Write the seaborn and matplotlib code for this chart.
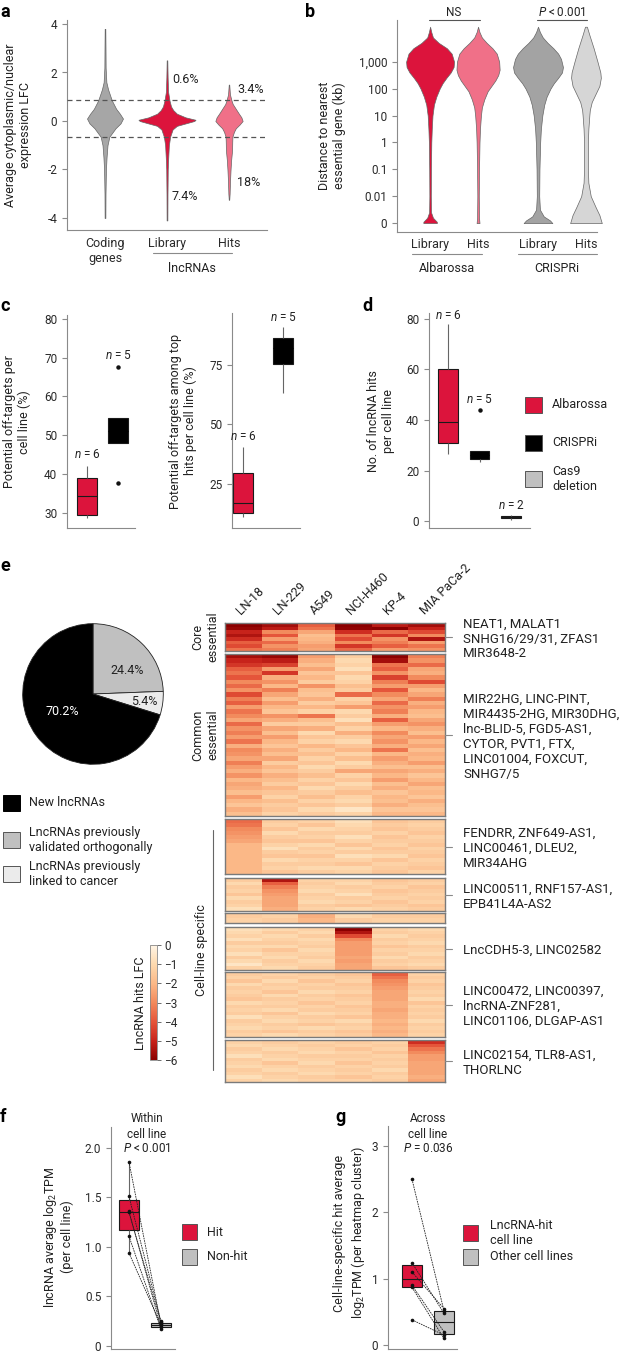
import numpy as np
import pandas as pd
import matplotlib
matplotlib.use("Agg")
import matplotlib.pyplot as plt
import seaborn as sns
from matplotlib.lines import Line2D
from matplotlib.patches import Rectangle
from matplotlib.colors import LinearSegmentedColormap

# ---------------- DATA ----------------
# Panel a: violin density profiles (y = LFC, w = half-width)
a_categories = ["Coding\ngenes", "Library", "Hits"]
a_coding_y = [-4.0, -3.0, -2.0, -1.5, -1.0, -0.65, -0.3, -0.1, 0.1, 0.3, 0.5, 0.85, 1.3, 1.6, 2.2, 3.0, 3.8]
a_coding_w = [0.006, 0.008, 0.015, 0.025, 0.04, 0.07, 0.17, 0.25, 0.29, 0.24, 0.18, 0.11, 0.05, 0.022, 0.01, 0.008, 0.005]
a_lib_y = [-4.1, -3.0, -2.0, -1.5, -1.0, -0.65, -0.35, -0.2, -0.1, 0.0, 0.05, 0.15, 0.3, 0.45, 0.6, 0.85, 1.2, 1.8, 2.5]
a_lib_w = [0.006, 0.008, 0.012, 0.02, 0.03, 0.05, 0.09, 0.16, 0.3, 0.44, 0.46, 0.3, 0.16, 0.1, 0.065, 0.04, 0.018, 0.01, 0.005]
a_hits_y = [-3.25, -3.0, -2.5, -2.0, -1.6, -1.2, -0.9, -0.65, -0.45, -0.3, -0.15, 0.0, 0.15, 0.3, 0.5, 0.7, 0.85, 1.1, 1.5]
a_hits_w = [0.004, 0.01, 0.016, 0.025, 0.035, 0.05, 0.052, 0.055, 0.08, 0.11, 0.17, 0.22, 0.2, 0.16, 0.11, 0.06, 0.04, 0.015, 0.004]
a_thresholds = [0.85, -0.65]
a_pct_labels = ["0.6%", "7.4%", "3.4%", "18%"]
a_pct_y = [1.7, -3.1, 1.28, -2.55]

# Panel b: violin density profiles (y = log10 kb, -3 stands for 0)
b_ticks = [-3, -2, -1, 0, 1, 2, 3]
b_ticklabels = ["0", "0.01", "0.1", "1", "10", "100", "1,000"]
b_alb_lib_y = [-3.0, -2.95, -2.8, -2.6, -2.0, -1.0, 0.0, 0.5, 1.0, 1.4, 1.7, 2.0, 2.2, 2.4, 2.6, 2.8, 3.0, 3.3, 3.5, 3.7, 3.9, 4.1, 4.3]
b_alb_lib_w = [0.14, 0.14, 0.06, 0.02, 0.015, 0.018, 0.025, 0.035, 0.05, 0.08, 0.13, 0.2, 0.26, 0.34, 0.43, 0.49, 0.5, 0.45, 0.35, 0.18, 0.06, 0.025, 0.0]
b_alb_hit_y = [-3.0, -2.8, -2.0, -1.0, 0.0, 0.5, 1.0, 1.3, 1.6, 1.9, 2.1, 2.3, 2.5, 2.7, 3.0, 3.3, 3.5, 3.7, 3.9, 4.1, 4.3]
b_alb_hit_w = [0.03, 0.02, 0.015, 0.02, 0.03, 0.04, 0.06, 0.08, 0.13, 0.2, 0.28, 0.36, 0.42, 0.45, 0.44, 0.39, 0.3, 0.18, 0.08, 0.03, 0.0]
b_cr_lib_y = [-3.0, -2.9, -2.75, -2.5, -2.0, -1.0, 0.0, 0.5, 1.0, 1.4, 1.7, 2.0, 2.2, 2.4, 2.6, 2.8, 3.1, 3.3, 3.5, 3.7, 3.9, 4.1, 4.3]
b_cr_lib_w = [0.3, 0.25, 0.12, 0.04, 0.025, 0.03, 0.045, 0.06, 0.09, 0.13, 0.18, 0.26, 0.33, 0.42, 0.5, 0.52, 0.48, 0.42, 0.32, 0.2, 0.1, 0.04, 0.0]
b_cr_hit_y = [-3.0, -2.7, -2.4, -2.0, -1.5, -1.0, 0.0, 0.5, 1.0, 1.2, 1.5, 1.8, 2.1, 2.4, 2.6, 3.0, 3.5, 4.0, 4.3]
b_cr_hit_w = [0.33, 0.28, 0.2, 0.1, 0.05, 0.04, 0.04, 0.05, 0.07, 0.08, 0.12, 0.2, 0.28, 0.31, 0.3, 0.24, 0.16, 0.07, 0.02]

# Panel c
c1_albarossa = [28.7, 29.2, 30.4, 38.4, 39.1, 42.2]
c1_crispri = [37.8, 48.0, 51.0, 54.5, 67.7]
c2_albarossa = [11.0, 12.0, 16.0, 18.0, 33.3, 40.5]
c2_crispri = [63.0, 75.5, 82.0, 86.5, 91.0]

# Panel d
d_albarossa = [26.5, 29.0, 36.2, 42.2, 66.3, 78.0]
d_crispri = [23.5, 24.5, 26.0, 27.7, 44.0]
d_cas9 = [0.6, 2.6]
d_labels = ["Albarossa", "CRISPRi", "Cas9\ndeletion"]

# Panel e pie
pie_values = [24.4, 5.4, 70.2]
pie_labels = ["LncRNAs previously\nvalidated orthogonally", "LncRNAs previously\nlinked to cancer", "New lncRNAs"]

# Panel e heatmap (LFC per lncRNA hit, columns = cell lines)
cell_lines = ["LN-18", "LN-229", "A549", "NCI-H460", "KP-4", "MIA PaCa-2"]
hm_core = [
    [-6.0, -5.6, -3.8, -6.0, -5.2, -5.6],
    [-5.8, -5.2, -3.4, -5.9, -6.0, -5.0],
    [-5.0, -3.0, -2.4, -4.8, -3.6, -4.2],
    [-5.4, -4.0, -1.8, -3.4, -4.6, -3.0],
    [-4.8, -2.6, -2.0, -4.2, -2.8, -5.4],
    [-3.8, -3.6, -2.2, -3.0, -3.2, -2.6],
    [-4.2, -2.8, -2.6, -4.6, -3.8, -3.4],
    [-3.4, -3.2, -2.4, -3.6, -2.6, -2.8],
]
hm_common = [
    [-5.6, -5.8, -2.6, -1.4, -6.0, -3.2],
    [-5.0, -5.2, -2.2, -1.0, -5.6, -2.8],
    [-4.6, -4.4, -1.8, -1.2, -3.4, -3.6],
    [-3.8, -2.6, -2.4, -0.8, -3.8, -2.4],
    [-3.4, -4.6, -1.6, -1.6, -2.8, -2.2],
    [-4.0, -2.2, -2.0, -1.0, -4.4, -3.0],
    [-3.0, -2.8, -1.4, -1.2, -3.2, -4.2],
    [-3.6, -2.0, -2.8, -1.8, -2.6, -2.6],
    [-2.8, -3.2, -1.8, -1.4, -4.0, -2.0],
    [-4.2, -2.4, -1.6, -3.6, -3.0, -2.4],
    [-3.2, -1.8, -2.2, -1.2, -2.4, -3.2],
    [-3.8, -2.6, -1.4, -1.6, -3.6, -2.2],
    [-2.6, -2.0, -2.0, -2.6, -2.8, -2.6],
    [-3.4, -1.6, -1.2, -1.0, -3.2, -2.0],
    [-3.0, -2.8, -3.4, -1.4, -2.2, -1.8],
    [-2.4, -2.2, -1.8, -0.8, -3.8, -2.4],
    [-3.6, -1.4, -1.4, -1.8, -2.6, -2.8],
    [-2.8, -2.4, -2.2, -1.2, -2.0, -2.2],
    [-3.2, -1.8, -1.0, -2.2, -3.0, -1.8],
    [-2.6, -2.6, -1.6, -1.4, -2.4, -2.6],
    [-3.4, -2.0, -1.2, -1.0, -2.8, -2.0],
    [-2.2, -1.6, -2.0, -1.6, -2.2, -2.4],
    [-3.0, -2.2, -1.4, -2.0, -3.4, -1.8],
    [-2.8, -1.8, -1.8, -1.2, -2.0, -2.2],
    [-2.4, -2.4, -1.2, -1.8, -2.6, -2.0],
    [-3.2, -1.4, -1.6, -1.0, -2.2, -2.6],
    [-2.6, -2.0, -1.0, -1.4, -1.8, -1.8],
    [-2.2, -1.6, -1.4, -2.4, -2.4, -2.2],
    [-2.8, -2.2, -1.8, -1.2, -2.0, -1.6],
    [-2.0, -1.8, -1.2, -1.6, -2.6, -2.0],
    [-2.4, -1.4, -1.6, -1.0, -1.8, -2.4],
    [-2.2, -2.0, -1.0, -1.4, -2.2, -1.8],
    [-1.8, -1.6, -1.4, -1.8, -1.6, -2.0],
    [-2.6, -1.2, -1.8, -1.2, -2.0, -1.6],
    [-2.0, -1.8, -1.2, -1.0, -1.8, -2.2],
    [-1.6, -1.4, -1.6, -1.4, -2.2, -1.8],
    [-2.2, -1.6, -1.0, -0.6, -1.6, -1.6],
    [-1.8, -1.2, -1.4, -1.2, -2.0, -2.0],
]
hm_ln18 = [
    [-3.6, -1.4, -1.2, -0.8, -1.6, -1.4],
    [-3.4, -1.2, -1.6, -1.0, -1.4, -1.2],
    [-3.0, -1.6, -1.0, -1.2, -1.6, -1.4],
    [-2.8, -1.0, -1.4, -1.4, -1.2, -1.6],
    [-2.6, -1.4, -1.2, -0.8, -1.6, -1.2],
    [-2.4, -1.6, -1.6, -1.2, -1.4, -1.4],
    [-2.0, -1.2, -1.0, -1.6, -1.2, -1.6],
    [-2.0, -0.8, -1.4, -1.0, -1.6, -1.2],
    [-2.0, -1.4, -1.2, -1.4, -1.4, -1.4],
    [-2.0, -1.6, -1.6, -0.8, -1.0, -1.6],
    [-2.0, -1.0, -1.2, -1.2, -1.6, -1.2],
    [-2.0, -1.4, -1.4, -1.6, -1.2, -1.4],
    [-2.0, -1.2, -1.0, -1.0, -1.4, -1.6],
    [-2.0, -1.6, -1.4, -1.2, -1.6, -1.2],
]
hm_ln229 = [
    [-1.4, -5.4, -1.2, -1.2, -1.6, -1.4],
    [-1.0, -3.8, -1.4, -1.0, -1.4, -1.2],
    [-1.4, -3.2, -1.2, -1.4, -1.2, -1.6],
    [-1.2, -2.8, -1.0, -1.2, -1.6, -1.4],
    [-1.6, -2.6, -1.4, -0.8, -1.4, -1.2],
    [-1.0, -2.4, -1.2, -1.4, -1.2, -1.4],
    [-1.4, -2.4, -1.0, -1.2, -1.6, -1.2],
    [-1.2, -2.4, -1.4, -1.6, -1.4, -1.6],
    [-0.8, -2.2, -1.2, -1.0, -1.2, -1.4],
]
hm_a549 = [
    [-1.4, -1.2, -2.2, -1.0, -1.4, -1.4],
    [-1.2, -1.4, -2.0, -1.4, -1.2, -1.2],
]
hm_h460 = [
    [-0.8, -1.0, -1.2, -6.0, -1.2, -1.0],
    [-1.0, -1.4, -1.0, -5.4, -1.4, -1.2],
    [-1.2, -1.0, -1.4, -4.2, -1.0, -1.4],
    [-0.8, -1.2, -1.0, -3.0, -1.4, -1.2],
    [-1.4, -1.4, -1.2, -2.6, -1.2, -1.0],
    [-1.0, -1.0, -1.4, -2.6, -1.6, -1.4],
    [-1.2, -1.6, -1.0, -2.6, -1.2, -1.2],
    [-0.8, -1.2, -1.2, -2.6, -1.4, -1.0],
    [-1.4, -1.0, -1.4, -2.4, -1.0, -1.4],
    [-1.0, -1.4, -1.0, -2.6, -1.4, -1.2],
    [-0.6, -1.2, -1.2, -2.4, -1.2, -1.0],
    [-1.2, -1.0, -1.4, -2.4, -1.6, -1.4],
]
hm_kp4 = [
    [-1.4, -1.2, -1.4, -1.6, -3.8, -1.2],
    [-1.2, -1.4, -1.2, -1.4, -3.4, -1.4],
    [-1.6, -1.0, -1.6, -1.2, -3.0, -1.2],
    [-1.0, -1.4, -1.2, -1.6, -2.8, -1.6],
    [-1.4, -1.2, -1.4, -1.4, -2.6, -1.4],
    [-1.2, -1.6, -1.0, -1.2, -2.4, -1.2],
    [-1.4, -1.0, -1.4, -1.6, -2.4, -1.4],
    [-1.6, -1.4, -1.2, -1.4, -2.4, -1.0],
    [-1.0, -1.2, -1.6, -1.2, -2.2, -1.6],
    [-1.4, -1.4, -1.2, -1.6, -2.2, -1.2],
    [-1.2, -1.0, -1.4, -1.4, -2.4, -1.4],
    [-1.4, -1.6, -1.0, -1.2, -2.2, -1.2],
    [-0.8, -1.2, -1.4, -1.6, -2.2, -1.4],
    [-1.4, -1.0, -1.2, -1.0, -2.0, -1.0],
    [-1.2, -1.4, -1.6, -1.4, -2.2, -1.4],
    [-1.0, -1.2, -1.0, -1.2, -2.0, -1.2],
    [-1.4, -1.6, -1.4, -1.6, -2.2, -1.4],
    [-1.2, -1.0, -1.2, -1.4, -2.0, -1.2],
]
hm_mia = [
    [-1.2, -1.4, -1.2, -1.4, -1.2, -4.8],
    [-1.0, -1.2, -1.4, -1.2, -1.4, -4.0],
    [-1.4, -1.0, -1.2, -1.6, -1.2, -3.4],
    [-1.2, -1.4, -1.0, -1.2, -1.6, -3.0],
    [-0.8, -1.2, -1.4, -1.4, -1.2, -2.6],
    [-1.4, -1.0, -1.2, -1.2, -1.4, -2.6],
    [-1.2, -1.6, -1.0, -1.6, -1.2, -2.4],
    [-1.0, -1.2, -1.4, -1.2, -1.4, -2.4],
    [-1.4, -1.0, -1.2, -1.4, -1.0, -2.4],
    [-1.2, -1.4, -1.0, -1.2, -1.4, -2.4],
    [-0.8, -1.2, -1.4, -1.6, -1.2, -2.2],
    [-1.2, -1.0, -1.2, -1.2, -1.4, -2.4],
]
hm_gene_labels = [
    "NEAT1, MALAT1\nSNHG16/29/31, ZFAS1\nMIR3648-2",
    "MIR22HG, LINC-PINT,\nMIR4435-2HG, MIR30DHG,\nlnc-BLID-5, FGD5-AS1,\nCYTOR, PVT1, FTX,\nLINC01004, FOXCUT,\nSNHG7/5",
    "FENDRR, ZNF649-AS1,\nLINC00461, DLEU2,\nMIR34AHG",
    "LINC00511, RNF157-AS1,\nEPB41L4A-AS2",
    "",
    "LncCDH5-3, LINC02582",
    "LINC00472, LINC00397,\nlncRNA-ZNF281,\nLINC01106, DLGAP-AS1",
    "LINC02154, TLR8-AS1,\nTHORLNC",
]
cbar_ticks = [0, -1, -2, -3, -4, -5, -6]

# Panel f
f_hit = [1.86, 1.51, 1.36, 1.35, 1.11, 0.94]
f_nonhit = [0.22, 0.25, 0.19, 0.24, 0.17, 0.21]
# Panel g
g_hit = [2.5, 1.24, 1.1, 0.9, 0.87, 0.38]
g_other = [0.52, 0.48, 0.55, 0.2, 0.1, 0.15]

# ---------------- STYLE ----------------
CRIMSON = "#dc143c"
PINK = "#f07088"
GRAY = "#a6a6a6"
LGRAY = "#d6d6d6"
BOXGRAY = "#c0c0c0"

sns.set_theme(style="ticks", rc={
    "axes.edgecolor": "#8a8a8a", "axes.linewidth": 0.8,
    "xtick.color": "#8a8a8a", "ytick.color": "#8a8a8a",
    "xtick.labelcolor": "#2a2a2a", "ytick.labelcolor": "#2a2a2a",
    "xtick.major.width": 0.8, "ytick.major.width": 0.8,
    "xtick.major.size": 3.5, "ytick.major.size": 3.5,
    "xtick.labelsize": 8.5, "ytick.labelsize": 8.5,
})
plt.rcParams["font.family"] = ["Roboto", "DejaVu Sans"]
plt.rcParams["mathtext.fontset"] = "custom"
plt.rcParams["mathtext.rm"] = "Roboto"
plt.rcParams["mathtext.it"] = "Roboto:italic"
plt.rcParams["mathtext.bf"] = "Roboto:bold"
plt.rcParams["axes.unicode_minus"] = False
plt.rcParams["text.color"] = "#222222"

W, H = 634, 1352
fig = plt.figure(figsize=(W / 100, H / 100), dpi=100)


def rect(l, t, r, b):
    return [l / W, 1 - b / H, (r - l) / W, (b - t) / H]


def ftext(x, y, s, **kw):
    kw.setdefault("fontsize", 9)
    return fig.text(x / W, 1 - y / H, s, **kw)


def fline(xs, ys, **kw):
    kw.setdefault("color", "#8a8a8a")
    kw.setdefault("lw", 0.8)
    fig.add_artist(Line2D([x / W for x in xs], [1 - y / H for y in ys], transform=fig.transFigure, **kw))


def fpatch(x, y, w, h, color, edge="#555555"):
    fig.add_artist(Rectangle((x / W, 1 - (y + h) / H), w / W, h / H, transform=fig.transFigure,
                             facecolor=color, edgecolor=edge, lw=0.7))


def violin(ax, pos, ys, ws, color):
    ys = np.asarray(ys); ws = np.asarray(ws)
    ax.fill_betweenx(ys, pos - ws, pos + ws, facecolor=color, edgecolor="#666666", lw=0.5,
                     zorder=3, clip_on=False)


def boxes(ax, groups, values, palette, width, fliers=True):
    df = pd.DataFrame({"g": np.repeat(groups, [len(v) for v in values]), "v": np.concatenate(values)})
    sns.boxplot(data=df, x="g", y="v", hue="g", order=groups, hue_order=groups, palette=palette,
                width=width, saturation=1, linecolor="#1a1a1a", linewidth=0.8, showfliers=fliers,
                flierprops=dict(marker="o", markersize=2.2, markerfacecolor="#111", markeredgecolor="#111"),
                whiskerprops=dict(color="#666666"), capprops=dict(linewidth=0),
                legend=False, ax=ax)
    # hide median line inside black boxes
    for gi, col in enumerate(palette):
        if col == "black":
            for ln in ax.lines:
                xd = np.asarray(ln.get_xdata(), dtype=float)
                yd = np.asarray(ln.get_ydata(), dtype=float)
                if len(xd) == 2 and yd[0] == yd[1] and abs(xd.mean() - gi) < 0.05 and xd[1] != xd[0]:
                    ln.set_color("black")
    ax.set_xlabel(""); ax.set_ylabel("")
    ax.set_xticks([])
    sns.despine(ax=ax)


def letter(x, y, s):
    ftext(x, y, s, fontsize=13, fontweight="bold", va="top", ha="left", color="black")

# ---------------- PANEL a ----------------
ax = fig.add_axes(rect(67, 20, 267, 230))
violin(ax, 0, a_coding_y, a_coding_w, GRAY)
violin(ax, 1, a_lib_y, a_lib_w, CRIMSON)
violin(ax, 2, a_hits_y, a_hits_w, PINK)
for t in a_thresholds:
    ax.axhline(t, color="#555555", lw=0.9, ls=(0, (4, 3)), zorder=4)
ax.set_xlim(-0.613, 2.613)
ax.set_ylim(-4.495, 4.165)
ax.set_yticks([-4, -2, 0, 2, 4])
ax.set_xticks([0, 1, 2], a_categories)
ax.tick_params(axis="x", length=0, pad=5, labelsize=9)
for s, xx, yy in zip(a_pct_labels, [1.08, 1.08, 2.13, 2.13], a_pct_y):
    ax.text(xx, yy, s, fontsize=9, va="center", ha="left")
sns.despine(ax=ax)
fline([153, 232], [253, 253])
ftext(192, 268, "lncRNAs", ha="center", va="center")
ftext(18, 125, "Average cytoplasmic/nuclear\nexpression LFC", rotation=90, ha="center", va="center")
letter(0, 3, "a")

# ---------------- PANEL b ----------------
ax = fig.add_axes(rect(397, 20, 597, 232))
violin(ax, 0, b_alb_lib_y, b_alb_lib_w, CRIMSON)
violin(ax, 1, b_alb_hit_y, b_alb_hit_w, PINK)
violin(ax, 2.25, b_cr_lib_y, b_cr_lib_w, "#a3a3a3")
violin(ax, 3.25, b_cr_hit_y, b_cr_hit_w, LGRAY)
ax.set_xlim(-0.69, 3.48)
ax.set_ylim(-3.33, 4.55)
ax.set_yticks(b_ticks, b_ticklabels)
ax.set_xticks([0, 1, 2.25, 3.25], ["Library", "Hits", "Library", "Hits"])
ax.tick_params(axis="x", length=0, pad=4, labelsize=9)
sns.despine(ax=ax)
fline([412, 482], [254, 254])
fline([518, 597], [254, 254])
ftext(447, 268, "Albarossa", ha="center", va="center")
ftext(557, 268, "CRISPRi", ha="center", va="center")
fline([429, 480], [20, 20], color="#555555")
fline([537, 587], [20, 20], color="#555555")
ftext(454, 12, "NS", ha="center", va="center", fontsize=8.5)
ftext(562, 12, "$P$ < 0.001", ha="center", va="center", fontsize=8.5)
ftext(332, 136, "Distance to nearest\nessential gene (kb)", rotation=90, ha="center", va="center")
letter(305, 3, "b")

# ---------------- PANEL c ----------------
ax = fig.add_axes(rect(67, 315, 135, 528))
boxes(ax, ["Albarossa", "CRISPRi"], [c1_albarossa, c1_crispri], [CRIMSON, "black"], 0.645)
ax.set_xlim(-0.645, 1.55); ax.set_ylim(26.1, 81)
ax.set_yticks([30, 40, 50, 60, 70, 80])
ax.text(0, 45, "$n$ = 6", ha="center", va="center", fontsize=8.5)
ax.text(1, 70.5, "$n$ = 5", ha="center", va="center", fontsize=8.5)
ftext(17, 422, "Potential off-targets per\ncell line (%)", rotation=90, ha="center", va="center")

ax = fig.add_axes(rect(232, 313, 300, 528))
boxes(ax, ["Albarossa", "CRISPRi"], [c2_albarossa, c2_crispri], [CRIMSON, "black"], 0.5)
ax.set_xlim(-0.275, 1.425); ax.set_ylim(6.5, 96.8)
ax.set_yticks([25, 50, 75])
ax.text(0, 45, "$n$ = 6", ha="center", va="center", fontsize=8.5)
ax.text(1, 95, "$n$ = 5", ha="center", va="center", fontsize=8.5)
ftext(183, 421, "Potential off-targets among top\nhits per cell line (%)", rotation=90, ha="center", va="center")
letter(0, 297, "c")

# ---------------- PANEL d ----------------
ax = fig.add_axes(rect(429, 313, 530, 528))
boxes(ax, ["Albarossa", "CRISPRi", "Cas9"], [d_albarossa, d_crispri, d_cas9], [CRIMSON, "black", BOXGRAY], 0.63)
ax.set_xlim(-0.6, 2.6); ax.set_ylim(-2.7, 82.3)
ax.set_yticks([0, 20, 40, 60, 80])
ax.text(0, 81.5, "$n$ = 6", ha="center", va="center", fontsize=8.5)
ax.text(1, 48, "$n$ = 5", ha="center", va="center", fontsize=8.5)
ax.text(2, 6, "$n$ = 2", ha="center", va="center", fontsize=8.5)
ftext(381, 421, "No. of lncRNA hits\nper cell line", rotation=90, ha="center", va="center")
for lab, col, yc in zip(d_labels, [CRIMSON, "black", BOXGRAY], [405, 443, 479]):
    fpatch(525, yc - 8, 17, 16, col)
    ftext(552, yc, lab, ha="left", va="center")
letter(362, 297, "d")

# ---------------- PANEL e : pie ----------------
ax = fig.add_axes(rect(22, 623, 164, 765))
ax.pie(pie_values, colors=[BOXGRAY, "#ebebeb", "black"], startangle=90, counterclock=False,
       wedgeprops=dict(edgecolor="#222222", linewidth=0.6))
ax.set_xlim(-1.01, 1.01); ax.set_ylim(-1.01, 1.01)
ax.text(0.49, 0.34, f"{pie_values[0]}%", ha="center", va="center", fontsize=9)
ax.text(0.73, -0.11, f"{pie_values[1]}%", ha="center", va="center", fontsize=9)
ax.text(-0.44, -0.25, f"{pie_values[2]}%", ha="center", va="center", fontsize=9, color="white")
for lab, col, yc in zip([pie_labels[2], pie_labels[0], pie_labels[1]], ["black", BOXGRAY, "#ebebeb"], [803, 840, 874]):
    fpatch(3, yc - 8, 17, 16, col, edge="#555555" if col != "black" else "black")
    ftext(29, yc, lab, ha="left", va="center")
letter(0, 557, "e")

# ---------------- PANEL e : heatmap ----------------
cmap = LinearSegmentedColormap.from_list(
    "lfc", ["#8b0000", "#c8231b", "#e5553a", "#f28a5c", "#fbb887", "#fdd9ae", "#fff5e6"])
clusters = [hm_core, hm_common, hm_ln18, hm_ln229, hm_a549, hm_h460, hm_kp4, hm_mia]
bounds = [(623, 651), (654, 816), (819, 874), (878, 911), (913, 923), (927, 970), (972, 1037), (1040, 1082)]
cax = fig.add_axes(rect(150, 945, 157, 1060))
for i, (data, (t, b), lab) in enumerate(zip(clusters, bounds, hm_gene_labels)):
    hax = fig.add_axes(rect(225, t, 445, b))
    sns.heatmap(np.array(data), ax=hax, cmap=cmap, vmin=-6, vmax=0, cbar=(i == 0),
                cbar_ax=cax if i == 0 else None, xticklabels=False, yticklabels=False)
    for sp in hax.spines.values():
        sp.set_visible(True); sp.set_color("#7a7a7a"); sp.set_linewidth(1.0)
    if i == 0:
        hax.set_xticks(np.arange(6) + 0.5)
        hax.set_xticklabels(cell_lines, rotation=45, ha="left", va="bottom", rotation_mode="anchor", fontsize=9)
        hax.xaxis.tick_top()
        hax.tick_params(axis="x", length=0, pad=4, labelcolor="#222222")
        cb = hax.collections[0].colorbar
    if lab:
        yc = (t + b) / 2
        fline([445, 452], [yc, yc])
        ftext(463, yc + 2, lab, ha="left", va="center", fontsize=9.5)
cb.set_ticks(cbar_ticks)
cb.set_ticklabels(["0"] + ["\u2212" + str(-v) for v in cbar_ticks[1:]])
cb.ax.tick_params(labelsize=8.5, length=3, width=0.6, color="#555555", pad=2)
cb.outline.set_edgecolor("#888888"); cb.outline.set_linewidth(0.6)
ftext(140, 1003, "LncRNA hits LFC", rotation=90, ha="center", va="center")
ftext(205, 637, "Core\nessential", rotation=90, ha="center", va="center")
ftext(205, 735, "Common\nessential", rotation=90, ha="center", va="center")
ftext(201, 950, "Cell-line specific", rotation=90, ha="center", va="center")
fline([213, 213], [830, 1070], color="#666666")

# ---------------- PANEL f ----------------
ax = fig.add_axes(rect(111, 1127, 175, 1349))
boxes(ax, ["Hit", "Non-hit"], [f_hit, f_nonhit], [CRIMSON, BOXGRAY], 0.62, fliers=False)
for h, n in zip(f_hit, f_nonhit):
    ax.plot([0, 1], [h, n], color="#222222", lw=0.6, ls=(0, (2, 1)), zorder=5)
pts = pd.DataFrame({"g": ["Hit"] * len(f_hit) + ["Non-hit"] * len(f_nonhit), "v": f_hit + f_nonhit})
sns.stripplot(data=pts, x="g", y="v", jitter=False, color="#111111", size=2.6, ax=ax, zorder=6)
ax.set_xlabel(""); ax.set_ylabel(""); ax.set_xticks([])
ax.set_xlim(-0.56, 1.44); ax.set_ylim(-0.03, 2.21)
ax.set_yticks([0, 0.5, 1.0, 1.5, 2.0], ["0", "0.5", "1.0", "1.5", "2.0"])
ftext(147, 1134, "Within\ncell line\n$P$ < 0.001", ha="center", va="center", fontsize=8.5)
ftext(58, 1237, "lncRNA average log$_2$TPM\n(per cell line)", rotation=90, ha="center", va="center")
for lab, col, yc in zip(["Hit", "Non-hit"], [CRIMSON, BOXGRAY], [1232, 1257]):
    fpatch(182, yc - 8, 15, 16, col)
    ftext(207, yc, lab, ha="left", va="center")
letter(0, 1108, "f")

# ---------------- PANEL g ----------------
ax = fig.add_axes(rect(388, 1126, 457, 1349))
boxes(ax, ["Hit", "Other"], [g_hit, g_other], [CRIMSON, BOXGRAY], 0.62, fliers=False)
for h, n in zip(g_hit, g_other):
    ax.plot([0, 1], [h, n], color="#222222", lw=0.6, ls=(0, (2, 1)), zorder=5)
pts = pd.DataFrame({"g": ["Hit"] * len(g_hit) + ["Other"] * len(g_other), "v": g_hit + g_other})
sns.stripplot(data=pts, x="g", y="v", jitter=False, color="#111111", size=2.6, ax=ax, zorder=6)
ax.set_xlabel(""); ax.set_ylabel(""); ax.set_xticks([])
ax.set_xlim(-0.75, 1.41); ax.set_ylim(-0.06, 3.3)
ax.set_yticks([0, 1, 2, 3])
ftext(428, 1134, "Across\ncell line\n$P$ = 0.036", ha="center", va="center", fontsize=8.5)
ftext(350, 1233, "Cell-line-specific hit average\nlog$_2$TPM (per heatmap cluster)", rotation=90, ha="center", va="center")
fpatch(463, 1225, 15, 16, CRIMSON)
ftext(490, 1233, "LncRNA-hit\ncell line", ha="left", va="center")
fpatch(463, 1249, 15, 16, BOXGRAY)
ftext(490, 1257, "Other cell lines", ha="left", va="center")
letter(335, 1108, "g")

fig.savefig("out.png", dpi=100)
